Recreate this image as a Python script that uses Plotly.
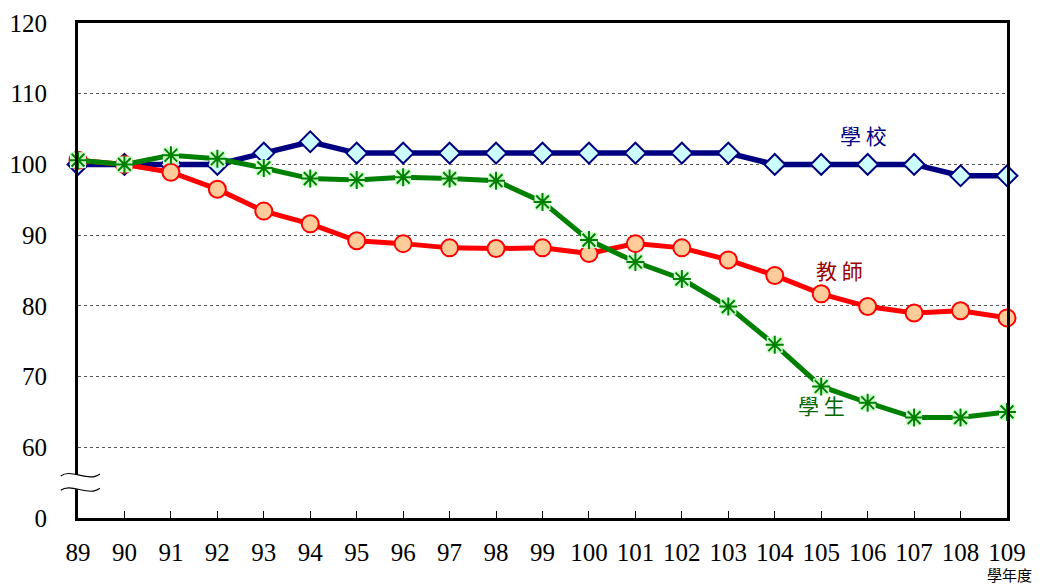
import plotly.graph_objects as go

# 學年度 89-109, index (90學年度 = 100)
years = list(range(89, 110))
school = [100.0, 100.0, 100.0, 100.0, 101.6, 103.2, 101.6, 101.6, 101.6, 101.6, 101.6,
          101.6, 101.6, 101.6, 101.6, 100.0, 100.0, 100.0, 100.0, 98.4, 98.4]
teacher = [100.6, 100.0, 98.9, 96.5, 93.4, 91.6, 89.2, 88.8, 88.2, 88.1, 88.2,
           87.4, 88.8, 88.2, 86.5, 84.3, 81.7, 79.9, 79.0, 79.3, 78.3]
student = [100.6, 100.0, 101.3, 100.8, 99.5, 98.0, 97.8, 98.2, 98.0, 97.7, 94.7,
           89.3, 86.2, 83.8, 79.9, 74.5, 68.6, 66.3, 64.2, 64.2, 65.0]

# axis is broken: 50 on the scale is shown as 0
y_ticks = [50, 60, 70, 80, 90, 100, 110, 120]
y_text = ["0", "60", "70", "80", "90", "100", "110", "120"]

serif = "Liberation Serif"
cjk = "Noto Sans CJK TC"

fig = go.Figure()

fig.add_trace(go.Scatter(
    x=years, y=school, mode="lines+markers", cliponaxis=False,
    line=dict(color="#000080", width=5.5),
    marker=dict(symbol="diamond", size=16, color="#CCFFFF",
                line=dict(color="#000080", width=2)),
))
fig.add_trace(go.Scatter(
    x=years, y=teacher, mode="lines+markers", cliponaxis=False,
    line=dict(color="#FF0000", width=5),
    marker=dict(symbol="circle", size=17, color="#FFCC99",
                line=dict(color="#FF0000", width=2)),
))
fig.add_trace(go.Scatter(
    x=years, y=student, mode="lines+markers", cliponaxis=False,
    line=dict(color="#008000", width=5),
    marker=dict(symbol="square", size=16, color="#CCFFCC", line=dict(width=0)),
))
fig.add_trace(go.Scatter(
    x=years, y=student, mode="markers", cliponaxis=False,
    marker=dict(symbol="asterisk-open", size=15, color="#008000",
                line=dict(color="#008000", width=2)),
))

# axis break symbol
fig.add_shape(type="rect", xref="paper", yref="paper",
              x0=-0.006, x1=0.006, y0=0.058, y1=0.087,
              fillcolor="white", line=dict(width=0))
for yb in (0.087, 0.058):
    fig.add_shape(type="path", xref="paper", yref="paper",
                  path=(f"M -0.0185 {yb - 0.002} C -0.008 {yb + 0.014}, "
                        f"0.012 {yb - 0.016}, 0.0235 {yb + 0.002}"),
                  line=dict(color="black", width=1.2))

for txt, xx, yy, col in [("學 校", 105.9, 104.2, "#000080"),
                         ("教 師", 105.4, 85.1, "#990000"),
                         ("學 生", 105.0, 66.0, "#006600")]:
    fig.add_annotation(x=xx, y=yy, text=txt, showarrow=False,
                       font=dict(family=cjk, size=21, color=col))
fig.add_annotation(xref="paper", yref="paper", x=1.003, y=-0.115, text="學年度",
                   xanchor="center", yanchor="middle", showarrow=False,
                   font=dict(family=cjk, size=15, color="black"))

fig.update_layout(
    width=1043, height=585,
    margin=dict(l=78, r=36, t=23, b=67),
    plot_bgcolor="white", paper_bgcolor="white",
    showlegend=False,
    font=dict(family=serif, size=25, color="black"),
)
fig.update_xaxes(
    range=[89, 109], tickvals=years, ticks="inside", ticklen=7, tickwidth=1,
    tickcolor="black", showgrid=False, zeroline=False, automargin=False,
    showline=True, linecolor="black", linewidth=3, mirror=True,
    ticklabelstandoff=10,
)
fig.update_yaxes(
    range=[50, 120], tickvals=y_ticks, ticktext=y_text, ticks="",
    showgrid=True, gridcolor="#555555", gridwidth=1, griddash="dot",
    zeroline=False, showline=True, linecolor="black", linewidth=3, mirror=True,
    ticklabelstandoff=23, automargin=False,
)

fig.write_html("out.html", config={"displayModeBar": False},
               post_script="document.body.style.margin='0';")
